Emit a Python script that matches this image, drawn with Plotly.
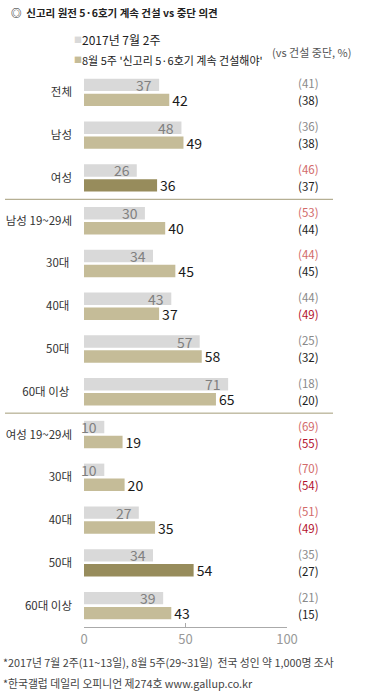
import plotly.graph_objects as go

categories = ["전체", "남성", "여성", "남성 19~29세", "30대 ", "40대 ", "50대 ", "60대 이상 ",
              "여성 19~29세", "30대", "40대", "50대", "60대 이상"]
jul_support = [37, 48, 26, 30, 34, 43, 57, 71, 10, 10, 27, 34, 39]
aug_support = [42, 49, 36, 40, 45, 37, 58, 65, 19, 20, 35, 54, 43]
jul_oppose = [41, 36, 46, 53, 44, 44, 25, 18, 69, 70, 51, 35, 21]
aug_oppose = [38, 38, 37, 44, 45, 49, 32, 20, 55, 54, 49, 27, 15]
jul_oppose_red = [False, False, True, True, True, False, False, False, True, True, True, False, False]
aug_oppose_red = [False, False, False, False, False, True, False, False, True, True, True, False, False]
aug_highlight = [False, False, True, False, False, False, False, False, False, False, False, True, False]
x_ticks = [0, 50, 100]

legend_jul = "2017년 7월 2주"
legend_aug = "8월 5주 '신고리 5·6호기 계속 건설해야'"
title = "◎  신고리 원전 5·6호기 계속 건설 vs 중단 의견"
unit_note = "(vs 건설 중단, %)"
foot1 = "*2017년 7월 2주(11~13일), 8월 5주(29~31일)  전국 성인 약 1,000명 조사"
foot2 = "*한국갤럽 데일리 오피니언 제274호 www.gallup.co.kr"

FONT = "Noto Sans CJK KR"
GRAY = "#d9d9d9"
TAN = "#c5bc98"
OLIVE = "#978c5c"

fig = go.Figure()
fig.add_trace(go.Bar(y=categories, x=jul_support, orientation="h", marker_color=GRAY,
                     marker_line_width=0, name=legend_jul, showlegend=False))
fig.add_trace(go.Bar(y=categories, x=aug_support, orientation="h",
                     marker_color=[OLIVE if h else TAN for h in aug_highlight],
                     marker_line_width=0, name=legend_aug, showlegend=False,
                     text=[str(v) for v in aug_support], textposition="outside",
                     textfont=dict(family=FONT, size=14, color="#1a1a1a"),
                     cliponaxis=False, constraintext="none"))

ann = []
for cat, v in zip(categories, jul_support):
    ann.append(dict(x=v, y=cat, xref="x", yref="y", text=str(v), showarrow=False,
                    xanchor="right", xshift=-5, yshift=7.5,
                    font=dict(family=FONT, size=14, color="#808080")))
for cat, v, r in zip(categories, jul_oppose, jul_oppose_red):
    ann.append(dict(x=1.105, y=cat, xref="paper", yref="y", text=f"({v})", showarrow=False,
                    xanchor="center", yshift=9,
                    font=dict(family=FONT, size=11.5, color="#d26a6a" if r else "#8a8a8a")))
for cat, v, r in zip(categories, aug_oppose, aug_oppose_red):
    ann.append(dict(x=1.105, y=cat, xref="paper", yref="y", text=f"({v})", showarrow=False,
                    xanchor="center", yshift=-8,
                    font=dict(family=FONT, size=11.5, color="#b3122e" if r else "#222222")))

def paper_x(px):
    return (px - 84) / (287 - 84)

def paper_y(py):
    return 1 - (py - 71) / (627 - 71)

ann.append(dict(x=paper_x(9), y=paper_y(13), xref="paper", yref="paper", text=f"<b>{title}</b>",
                showarrow=False, xanchor="left", yanchor="middle",
                font=dict(family=FONT, size=10.5, color="#222")))
ann.append(dict(x=paper_x(72), y=paper_y(40), xref="paper", yref="paper",
                text=f"<span style='color:{GRAY}'>■</span>",
                showarrow=False, xanchor="left", yanchor="middle",
                font=dict(family=FONT, size=8)))
ann.append(dict(x=paper_x(80), y=paper_y(40), xref="paper", yref="paper", text=legend_jul,
                showarrow=False, xanchor="left", yanchor="middle",
                font=dict(family=FONT, size=12, color="#222")))
ann.append(dict(x=paper_x(72), y=paper_y(60), xref="paper", yref="paper",
                text=f"<span style='color:{TAN}'>■</span>",
                showarrow=False, xanchor="left", yanchor="middle",
                font=dict(family=FONT, size=8)))
ann.append(dict(x=paper_x(80), y=paper_y(60), xref="paper", yref="paper", text=legend_aug,
                showarrow=False, xanchor="left", yanchor="middle",
                font=dict(family=FONT, size=11, color="#222")))
ann.append(dict(x=paper_x(270), y=paper_y(52), xref="paper", yref="paper", text=unit_note,
                showarrow=False, xanchor="left", yanchor="middle",
                font=dict(family=FONT, size=11, color="#555")))
ann.append(dict(x=paper_x(1), y=paper_y(662), xref="paper", yref="paper", text=foot1,
                showarrow=False, xanchor="left", yanchor="middle",
                font=dict(family=FONT, size=10.8, color="#444")))
ann.append(dict(x=paper_x(1), y=paper_y(683), xref="paper", yref="paper", text=foot2,
                showarrow=False, xanchor="left", yanchor="middle",
                font=dict(family=FONT, size=10.8, color="#444")))

shapes = []
for yy in [2.5, 7.5]:
    shapes.append(dict(type="line", xref="paper", yref="y", x0=paper_x(5), x1=paper_x(333),
                       y0=yy, y1=yy, line=dict(color="#a39c78", width=1)))

fig.update_layout(
    width=367, height=693,
    margin=dict(l=84, r=80, t=71, b=66),
    paper_bgcolor="white", plot_bgcolor="white",
    barmode="group", bargap=0.30, bargroupgap=0.17,
    showlegend=False,
    annotations=ann, shapes=shapes,
    font=dict(family=FONT),
    xaxis=dict(range=[0, 100], tickvals=x_ticks, ticks="inside", ticklen=4, tickcolor="#aaa",
               showline=True, linecolor="#aaa", linewidth=1, showgrid=False, zeroline=False,
               automargin=False,
               tickfont=dict(family=FONT, size=13, color="#999")),
    yaxis=dict(autorange="reversed", showgrid=False, showline=False, ticks="",
               automargin=False,
               ticklabelstandoff=11, tickfont=dict(family=FONT, size=11.5, color="#333")),
)

fig.write_html("out.html")
